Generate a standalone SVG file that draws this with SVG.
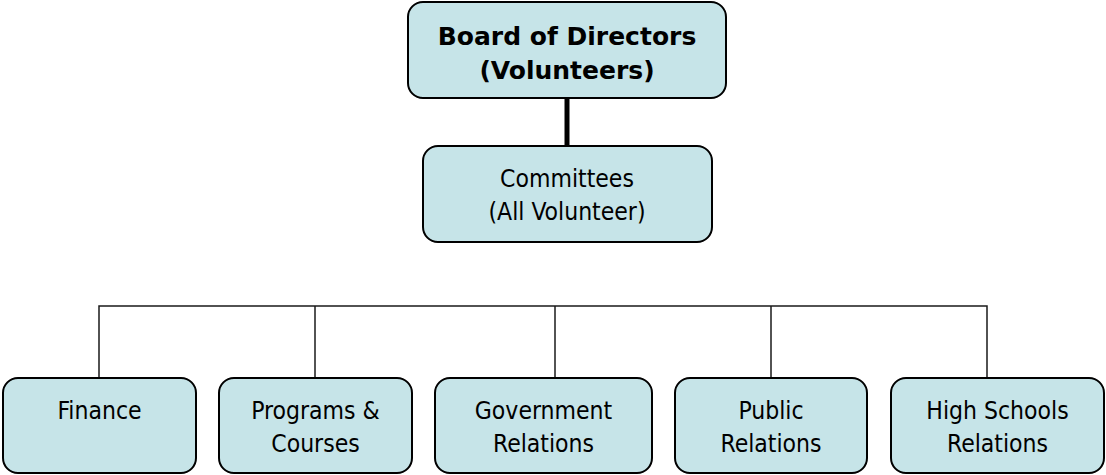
<svg xmlns="http://www.w3.org/2000/svg" width="1106" height="475" viewBox="0 0 1106 475">
  <style>
    .box { fill: #c6e4e8; stroke: #000; stroke-width: 2; }
    .lbl { font-family: "DejaVu Sans Condensed", "DejaVu Sans", Tahoma, sans-serif; font-stretch: condensed; font-size: 24.5px; fill: #000; text-anchor: middle; }
    .head { font-family: "DejaVu Sans", Tahoma, sans-serif; font-stretch: normal; font-weight: bold; font-size: 25px; }
    .link { fill: none; stroke: #1a1a1a; stroke-width: 1.5; }
    .trunk { fill: none; stroke: #000; stroke-width: 5; }
  </style>
  <rect width="1106" height="475" fill="#fff"/>

  <!-- connectors -->
  <g id="connectors">
    <line class="trunk" x1="567" y1="98" x2="567" y2="146"/>
    <path class="link" d="M99 378 V306 H987 V378"/>
    <line class="link" x1="315" y1="306" x2="315" y2="378"/>
    <line class="link" x1="555" y1="306" x2="555" y2="378"/>
    <line class="link" x1="771" y1="306" x2="771" y2="378"/>
  </g>

  <!-- board -->
  <g id="board">
    <rect class="box" x="408" y="2" width="318" height="96" rx="15"/>
    <text class="lbl head" x="567" y="45">Board of Directors</text>
    <text class="lbl head" x="567" y="79">(Volunteers)</text>
  </g>

  <g id="committees">
    <rect class="box" x="423" y="146" width="289" height="96" rx="15"/>
    <text class="lbl" x="567" y="187">Committees</text>
    <text class="lbl" x="567" y="220">(All Volunteer)</text>
  </g>

  <!-- committee row -->
  <g id="finance">
    <rect class="box" x="3" y="378" width="193" height="95" rx="15"/>
    <text class="lbl" x="99.5" y="419">Finance</text>
  </g>

  <g id="programs">
    <rect class="box" x="219" y="378" width="193" height="95" rx="15"/>
    <text class="lbl" x="315.5" y="419">Programs &amp;</text>
    <text class="lbl" x="315.5" y="452">Courses</text>
  </g>

  <g id="government">
    <rect class="box" x="435" y="378" width="217" height="95" rx="15"/>
    <text class="lbl" x="543.5" y="419">Government</text>
    <text class="lbl" x="543.5" y="452">Relations</text>
  </g>

  <g id="public">
    <rect class="box" x="675" y="378" width="192" height="95" rx="15"/>
    <text class="lbl" x="771" y="419">Public</text>
    <text class="lbl" x="771" y="452">Relations</text>
  </g>

  <g id="highschools">
    <rect class="box" x="891" y="378" width="213" height="95" rx="15"/>
    <text class="lbl" x="997.5" y="419">High Schools</text>
    <text class="lbl" x="997.5" y="452">Relations</text>
  </g>
</svg>
